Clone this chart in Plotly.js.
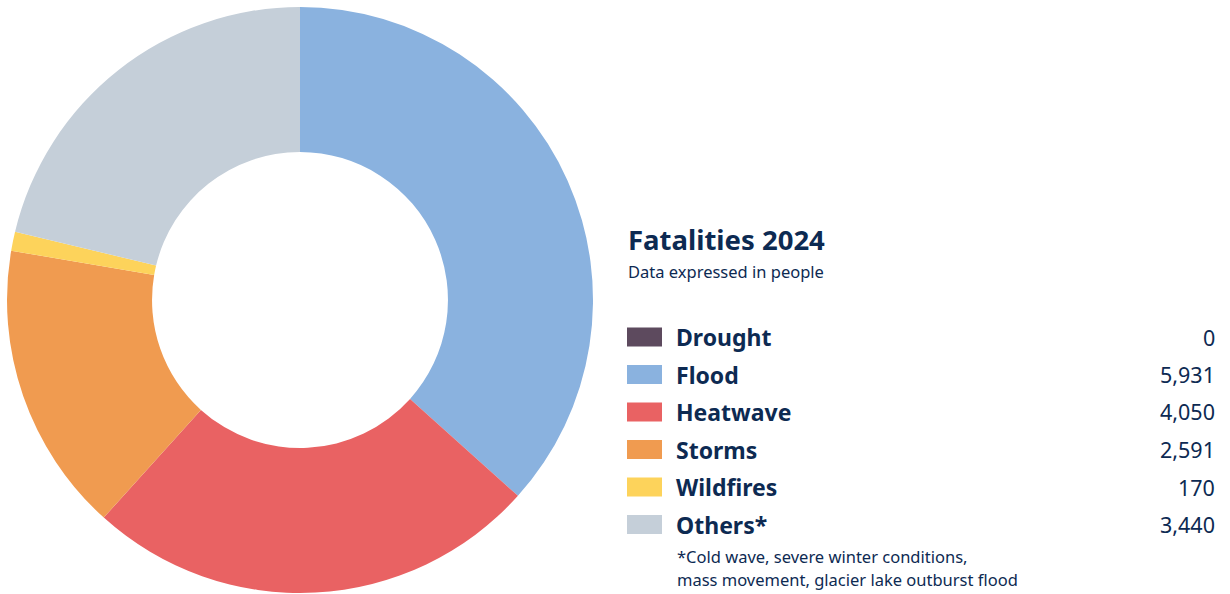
<!DOCTYPE html>
<html><head><meta charset="utf-8">
<script src="https://cdn.plot.ly/plotly-3.0.1.min.js"></script>
<style>html,body{margin:0;padding:0;background:#fff}#chart{width:1230px;height:594px}</style>
</head><body><div id="chart"></div>
<script>
const categories = ["Drought", "Flood", "Heatwave", "Storms", "Wildfires", "Others*"];
const values = [0, 5931, 4050, 2591, 170, 3440];
const valueLabels = ["0", "5,931", "4,050", "2,591", "170", "3,440"];
const colors = ["#5d4a5e", "#8ab2df", "#e96263", "#f09b50", "#fdd35b", "#c5cfd9"];
const titleText = "Fatalities 2024";
const subtitleText = "Data expressed in people";
const footnoteLines = ["*Cold wave, severe winter conditions,", "mass movement, glacier lake outburst flood"];

const W = 1230, H = 594;
const navy = "#0d2a52";
const FONT = "Noto Sans, Open Sans, sans-serif";
const px = x => x / W;
const py = y => 1 - y / H;

const shapes = [], annotations = [];
annotations.push({xref:"paper", yref:"paper", x:px(627), y:py(239.5), xanchor:"left", yanchor:"middle", borderpad:0,
  text:"<b>"+titleText+"</b>", showarrow:false, font:{family:FONT, size:27.5, color:navy}});
annotations.push({xref:"paper", yref:"paper", x:px(627), y:py(271), xanchor:"left", yanchor:"middle", borderpad:0,
  text:subtitleText, showarrow:false, font:{family:FONT, size:16.5, color:navy}});
const rowY0 = 337, rowStep = 37.5;
categories.forEach((c, i) => {
  const yc = rowY0 + i * rowStep;
  shapes.push({type:"rect", xref:"paper", yref:"paper", x0:px(627), x1:px(662), y0:py(yc-9.5), y1:py(yc+9.5),
    fillcolor:colors[i], line:{width:0}});
  annotations.push({xref:"paper", yref:"paper", x:px(675), y:py(yc), xanchor:"left", yanchor:"middle", borderpad:0,
    text:"<b>"+c+"</b>", showarrow:false, font:{family:FONT, size:23, color:navy}});
  annotations.push({xref:"paper", yref:"paper", x:px(1216), y:py(yc), xanchor:"right", yanchor:"middle", borderpad:0,
    text:valueLabels[i], showarrow:false, font:{family:FONT, size:21.5, color:navy}});
});
footnoteLines.forEach((t, i) => {
  annotations.push({xref:"paper", yref:"paper", x:px(676), y:py(556 + i*23.5), xanchor:"left", yanchor:"middle", borderpad:0,
    text:t, showarrow:false, font:{family:FONT, size:16.5, color:navy}});
});

const cy = 300, R = 293;
const data = [{
  type:"pie", labels:categories, values:values, hole:0.505, sort:false, direction:"clockwise", rotation:0,
  marker:{colors:colors, line:{width:0}}, textinfo:"none", hoverinfo:"label+value",
  domain:{x:[px(300-R), px(300+R)], y:[(H-cy-R)/H, (H-cy+R)/H]}
}];
const layout = {width:W, height:H, margin:{l:0,r:0,t:0,b:0}, showlegend:false,
  paper_bgcolor:"#fff", plot_bgcolor:"#fff", shapes:shapes, annotations:annotations};
Plotly.newPlot("chart", data, layout, {displayModeBar:false, staticPlot:true});
</script></body></html>
